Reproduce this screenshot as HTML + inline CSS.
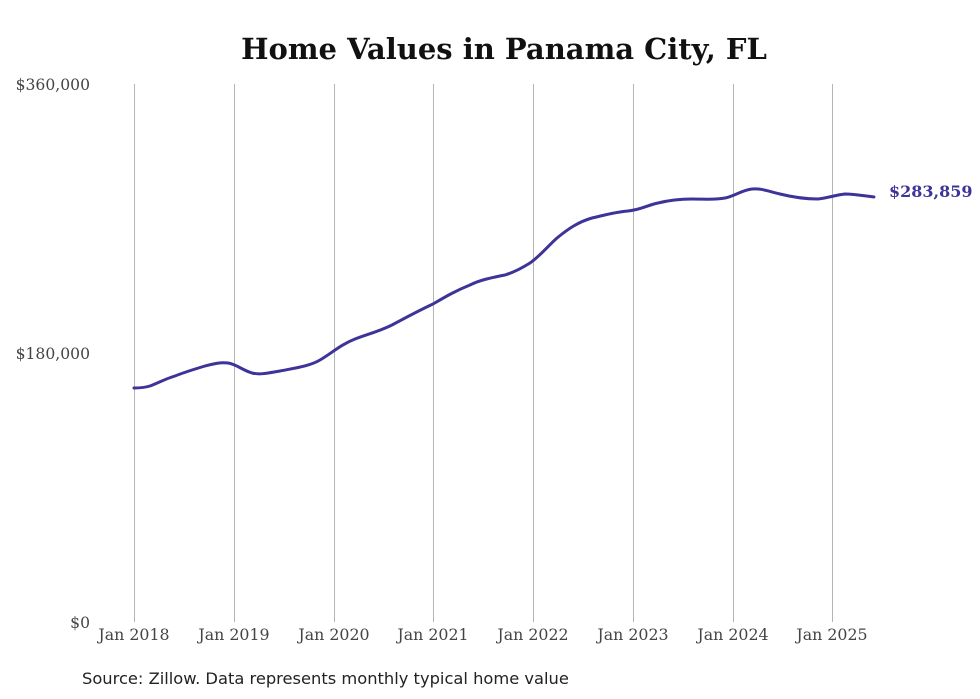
<!DOCTYPE html>
<html><head><meta charset="utf-8"><style>
html,body{margin:0;padding:0;background:#fff;}
svg{display:block;}
</style></head><body>
<svg width="980" height="699" viewBox="0 0 980 699" xmlns="http://www.w3.org/2000/svg">
<rect width="980" height="699" fill="#fff"/>
<text x="504" y="59" text-anchor="middle" font-family="DejaVu Serif, serif" font-weight="bold" font-size="29" fill="#111">Home Values in Panama City, FL</text>
<g stroke="#b5b5b5" stroke-width="1">
<line x1="134.5" y1="84" x2="134.5" y2="622"/>
<line x1="234.5" y1="84" x2="234.5" y2="622"/>
<line x1="334.5" y1="84" x2="334.5" y2="622"/>
<line x1="433.5" y1="84" x2="433.5" y2="622"/>
<line x1="533.5" y1="84" x2="533.5" y2="622"/>
<line x1="633.5" y1="84" x2="633.5" y2="622"/>
<line x1="733.5" y1="84" x2="733.5" y2="622"/>
<line x1="832.5" y1="84" x2="832.5" y2="622"/>
</g>
<g font-family="DejaVu Serif, serif" font-size="15.6" fill="#444">
<text x="90" y="90" text-anchor="end">$360,000</text>
<text x="90" y="359" text-anchor="end">$180,000</text>
<text x="90" y="628" text-anchor="end">$0</text>
<g text-anchor="middle" font-size="15.8">
<text x="134" y="640">Jan 2018</text>
<text x="234" y="640">Jan 2019</text>
<text x="334" y="640">Jan 2020</text>
<text x="433" y="640">Jan 2021</text>
<text x="533" y="640">Jan 2022</text>
<text x="633" y="640">Jan 2023</text>
<text x="733" y="640">Jan 2024</text>
<text x="832" y="640">Jan 2025</text>
</g>
</g>
<path fill="none" stroke="#3d3399" stroke-width="3" stroke-linejoin="round" stroke-linecap="round"
d="M134,388 C140,388 145,387.5 150,386 C158,383 165,379 175,376 C185,372 195,369 205,366 C213,364 220,362 228,363 C236,364 242,370 252,373 C260,375 268,373 280,371 C295,368 310,366 320,360 C332,353 340,345 355,339 C368,334 380,331 392,325 C405,318 420,310 433,304 C445,297 455,291 470,285 C480,280 490,278 505,275 C515,272 522,268 530,263 C540,256 547,247 557,238 C568,229 578,222 592,218 C605,215 615,212 628,211 C640,210 648,205 658,203 C670,200 680,199 692,199 C705,199 715,200 725,198 C735,196 742,190 752,189 C762,188 770,192 780,194 C792,197 805,199 818,199 C828,198 835,195 845,194 C855,194 865,196 874,197"/>
<text x="889" y="197" font-family="DejaVu Serif, serif" font-weight="bold" font-size="16" fill="#3d3399">$283,859</text>
<text x="82" y="684" font-family="DejaVu Sans, sans-serif" font-size="16.3" fill="#222">Source: Zillow. Data represents monthly typical home value</text>
</svg>
</body></html>
